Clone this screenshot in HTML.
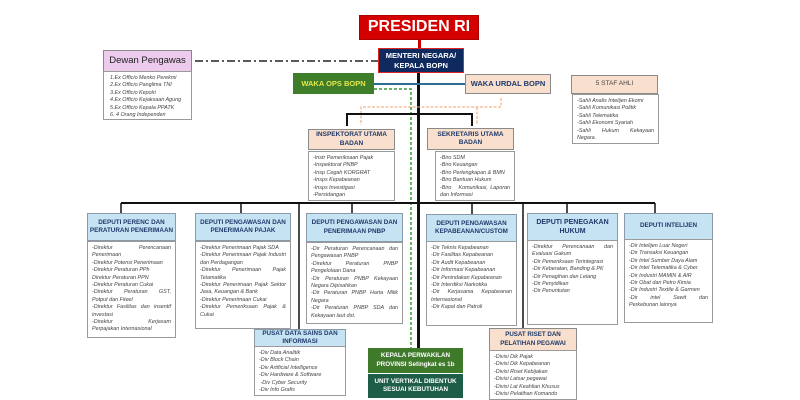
<!DOCTYPE html>
<html><head><meta charset="utf-8"><style>
*{margin:0;padding:0;box-sizing:border-box}
body{width:800px;height:400px;background:#fff;position:relative;overflow:hidden;font-family:"Liberation Sans",sans-serif}
.a{position:absolute}
.h{position:absolute;display:flex;align-items:center;justify-content:center;text-align:center;font-weight:bold;line-height:1.3}
.dh{background:#c6e3f3;border:1px solid #8a9aa8;color:#1d3a6b;font-size:6.3px}
.pe{background:#f9dfcd;border:1px solid #8a8a8a;color:#1d3a6b;font-size:6.5px}
.l{position:absolute;border:1px solid #9a9a9a;background:#fff;font-size:5.4px;font-style:italic;color:#444;line-height:7.4px;padding:3px 4px;text-align:justify}
.ln{position:absolute;background:#111}
</style></head><body>
<!-- connectors -->
<div class="ln" style="left:418px;top:39px;width:3px;height:10px;background:#c00"></div>
<div class="ln" style="left:417px;top:72px;width:3px;height:276px"></div>
<svg class="a" style="left:0;top:0" width="800" height="400">
<line x1="195" y1="61" x2="378" y2="61" stroke="#222" stroke-width="1.5" stroke-dasharray="8,3,2,3"/>
<line x1="373" y1="84" x2="465" y2="84" stroke="#2a6f8f" stroke-width="2"/>
<polyline points="374,89 411,89 411,348" fill="none" stroke="#3a9a3a" stroke-width="1.5" stroke-dasharray="3,2"/>
<polyline points="501,98 501,107 361,107 361,125" fill="none" stroke="#f0a070" stroke-width="1" stroke-dasharray="3,1.5"/>
<line x1="477" y1="107" x2="477" y2="125" stroke="#f0a070" stroke-width="1" stroke-dasharray="3,1.5"/>
<polyline points="347,126 347,114 472,114 472,126" fill="none" stroke="#111" stroke-width="2"/>
<line x1="121" y1="203" x2="655" y2="203" stroke="#111" stroke-width="2"/>
<g stroke="#111" stroke-width="1.5">
<line x1="121" y1="203" x2="121" y2="213"/><line x1="241" y1="203" x2="241" y2="213"/>
<line x1="352" y1="203" x2="352" y2="213"/><line x1="472" y1="203" x2="472" y2="214"/>
<line x1="567" y1="203" x2="567" y2="213"/><line x1="655" y1="203" x2="655" y2="213"/>
<line x1="299" y1="203" x2="299" y2="329"/><line x1="523" y1="203" x2="523" y2="328"/>
</g>
</svg>
<!-- top -->
<div class="h" style="left:359px;top:15px;width:120px;height:25px;background:#d40000;border:1px solid #a00;color:#fff;font-size:16px">PRESIDEN RI</div>
<div class="h" style="left:378px;top:48px;width:86px;height:25px;background:#0f2a5e;border:1.5px solid #d22;color:#fff;font-size:7.5px">MENTERI NEGARA/<br>KEPALA BOPN</div>
<div class="h" style="left:103px;top:50px;width:89px;height:22px;background:#edcbed;border:1px solid #888;color:#222;font-size:9.5px;font-weight:normal">Dewan Pengawas</div>
<div class="l" style="left:103px;top:71px;width:89px;height:49px;text-align:left;padding:3px 6px">1.Ex Officio Menko Perekmi<br>2.Ex Officio Panglima TNI<br>3.Ex Officio Kepolri<br>4.Ex Officio Kejaksaan Agung<br>5.Ex Officio Kepala PPATK<br>6. 4 Orang Independen</div>
<div class="h" style="left:293px;top:73px;width:81px;height:21px;background:#3e7d2a;color:#e6e64a;font-size:7.5px">WAKA OPS BOPN</div>
<div class="h pe" style="left:465px;top:74px;width:86px;height:20px;font-size:7.5px;color:#1d3a6b">WAKA URDAL BOPN</div>
<div class="h pe" style="left:571px;top:75px;width:87px;height:19px;font-weight:normal;color:#444">5 STAF AHLI</div>
<div class="l" style="left:572px;top:94px;width:87px;height:50px">-Sahli Analis Intelijen Ekomi<br>-Sahli Komunikasi Politik<br>-Sahli Telematika<br>-Sahli Ekonomi Syariah<br>-Sahli &nbsp; Hukum &nbsp; Kekayaan Negara.</div>
<div class="h pe" style="left:308px;top:129px;width:87px;height:21px">INSPEKTORAT UTAMA<br>BADAN</div>
<div class="l" style="left:308px;top:151px;width:87px;height:50px;text-align:left">-Instr Pemeriksaan Pajak<br>-Inspektorat PNBP<br>-Insp Cegah KORGRAT<br>-Insps Kepabeanan<br>-Insps Investigasi<br>-Persidangan</div>
<div class="h pe" style="left:427px;top:128px;width:87px;height:22px">SEKRETARIS UTAMA<br>BADAN</div>
<div class="l" style="left:435px;top:151px;width:80px;height:50px">-Biro SDM<br>-Biro Keuangan<br>-Biro Perlengkapan &amp; BMN<br>-Biro Bantuan Hukum<br>-Biro &nbsp; Komunikasi, Laporan dan Informasi</div>
<!-- deputies -->
<div class="h dh" style="left:87px;top:213px;width:89px;height:28px">DEPUTI PERENC DAN<br>PERATURAN PENERIMAAN</div>
<div class="l" style="left:87px;top:241px;width:89px;height:97px">-Direktur &nbsp; &nbsp; &nbsp; &nbsp; Perencanaan Penerimaan<br>-Direktur Potensi Penerimaan<br>-Direktur Peraturan PPh<br>Direktur Peraturan PPN<br>-Direktur Peraturan Cukai<br>-Direktur &nbsp; Peraturan &nbsp; GST, Potput dan Fiteel<br>-Direktur Fasilitas dan insentif investasi<br>-Direktur &nbsp; &nbsp; &nbsp; &nbsp; Kerjasam Perpajakan Internasional</div>
<div class="h dh" style="left:195px;top:213px;width:96px;height:28px">DEPUTI PENGAWASAN DAN<br>PENERIMAAN PAJAK</div>
<div class="l" style="left:195px;top:241px;width:96px;height:88px">-Direktur Penerimaan Pajak SDA<br>-Direktur Penerimaan Pajak Industri dan Perdagangan<br>-Direktur Penerimaan Pajak Telamatika<br>-Direktur Penerimaan Pajak Sektor Jasa, Keuangan &amp; Bank<br>-Direktur Penerimaan Cukai<br>-Direktur Pemeriksaan Pajak &amp; Cukai</div>
<div class="h dh" style="left:306px;top:213px;width:97px;height:29px">DEPUTI PENGAWASAN DAN<br>PENERIMAAN PNBP</div>
<div class="l" style="left:306px;top:242px;width:97px;height:82px">-Dir Peraturan Perencanaan dan Pengawasan PNBP<br>-Direktur Peraturan PNBP Pengelolaan Dana<br>-Dir Peraturan PNBP Kekayaan Negara Dipisahkan<br>-Dir Peraturan PNBP Harta Milik Negara<br>-Dir Peraturan PNBP SDA dan Kekayaan laut dst.</div>
<div class="h dh" style="left:426px;top:214px;width:91px;height:28px">DEPUTI PENGAWASAN<br>KEPABEANAN/CUSTOM</div>
<div class="l" style="left:426px;top:241px;width:91px;height:85px">-Dir Teknis Kepabeanan<br>-Dir Fasilitas Kepabeanan<br>-Dir Audit Kepabeanan<br>-Dir Informasi Kepabeanan<br>-Dir Penindakan Kepabeanan<br>-Dir Interdiksi Narkotika<br>-Dir Kerjasama Kepabeanan Internasional<br>-Dir Kapal dan Patroli</div>
<div class="h dh" style="left:527px;top:213px;width:91px;height:28px;font-size:7px">DEPUTI PENEGAKAN<br>HUKUM</div>
<div class="l" style="left:527px;top:240px;width:91px;height:85px">-Direktur Perencanaan dan Evaluasi Gakum<br>-Dir Pemeriksaan Terintegrasi<br>-Dir Keberatan, Banding &amp; PK<br>-Dir Penagihan dan Lelang<br>-Dir Penyidikan<br>-Dir Penuntutan</div>
<div class="h dh" style="left:624px;top:213px;width:89px;height:27px">DEPUTI INTELIJEN</div>
<div class="l" style="left:624px;top:239px;width:89px;height:84px">-Dir Intelijen Luar Negeri<br>-Dir Transaksi Keuangan<br>-Dir Intel Sumber Daya Alam<br>-Dir Intel Telematika &amp; Cyber<br>-Dir Industri MAMIN &amp; AIR<br>-Dir Obat dan Petro Kimia<br>-Dir Industri Textile &amp; Garmen<br>-Dir &nbsp; intel &nbsp; Sawit &nbsp; dan Perkebunan lainnya</div>
<!-- bottom -->
<div class="h dh" style="left:254px;top:329px;width:92px;height:18px">PUSAT DATA SAINS DAN<br>INFORMASI</div>
<div class="l" style="left:254px;top:346px;width:92px;height:50px;text-align:left">-Div Data Analitik<br>-Div Block Chain<br>-Div Artificial Intelligence<br>-Div Hardware &amp; Software<br>&nbsp;-Div Cyber Security<br>-Div Info Grafis</div>
<div class="h pe" style="left:489px;top:328px;width:88px;height:23px;font-size:6.2px">PUSAT RISET DAN<br>PELATIHAN PEGAWAI</div>
<div class="l" style="left:489px;top:350px;width:88px;height:50px;text-align:left">-Divisi Dik Pajak<br>-Divisi Dik Kepabeanan<br>-Divisi Riset Kebijakan<br>-Divisi Latsar pegawai<br>-Divisi Lat Keahlian Khusus<br>-Divisi Pelatihan Komando</div>
<div class="h" style="left:368px;top:348px;width:95px;height:25px;background:#3f7a2a;color:#fff;font-size:6.3px">KEPALA PERWAKILAN<br>PROVINSI Setingkat es 1b</div>
<div class="h" style="left:368px;top:374px;width:95px;height:24px;background:#1e5e48;color:#fff;font-size:6.3px">UNIT VERTIKAL DIBENTUK<br>SESUAI KEBUTUHAN</div>
</body></html>
